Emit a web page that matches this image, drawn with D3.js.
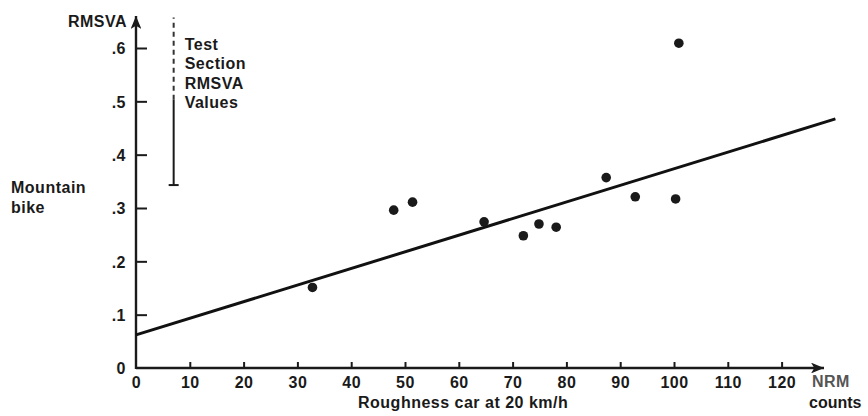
<!DOCTYPE html>
<html>
<head>
<meta charset="utf-8">
<script src="https://cdnjs.cloudflare.com/ajax/libs/d3/7.8.5/d3.min.js"></script>
<style>
  body { margin: 0; background: #fff; }
  text { font-family: "Liberation Sans", Arial, sans-serif; font-weight: bold; fill: #1a1a1a; letter-spacing: 0.5px; }
</style>
</head>
<body>
<div class="chart-container"></div>
<script>
// values
var roughness = [32.8, 47.9, 51.4, 64.7, 72.0, 74.9, 78.1, 87.4, 92.8, 100.3, 100.9];
var rmsva     = [0.151, 0.296, 0.311, 0.274, 0.248, 0.270, 0.264, 0.357, 0.321, 0.317, 0.609];

// fitted line end points
var fitX = [0, 130];
var fitY = [0.062, 0.467];

var xTicks = [0, 10, 20, 30, 40, 50, 60, 70, 80, 90, 100, 110, 120];
var yTicks = [0, 0.1, 0.2, 0.3, 0.4, 0.5, 0.6];
var yTickLabels = ['0', '.1', '.2', '.3', '.4', '.5', '.6'];

// test section range bar (at x = 7): dashed top part, solid bottom part
var rangeX = 7;
var rangeDashed = [0.503, 0.657];
var rangeSolid = [0.343, 0.503];
var rangeLabel = ['Test', 'Section', 'RMSVA', 'Values'];

var width = 868;
var height = 416;
var fontSize = '16px';

var x = d3.scaleLinear()
  .domain([0, 100])
  .range([136, 674]);

var y = d3.scaleLinear()
  .domain([0, 0.6])
  .range([368, 48]);

var svg = d3.select('.chart-container').append('svg')
  .attr('width', width)
  .attr('height', height);

svg.append('defs').append('marker')
    .attr('id', 'arrow')
    .attr('viewBox', '0 0 12 10')
    .attr('refX', 12)
    .attr('refY', 5)
    .attr('markerWidth', 6)
    .attr('markerHeight', 4.5)
    .attr('markerUnits', 'strokeWidth')
    .attr('orient', 'auto')
  .append('path')
    .attr('d', 'M0,0L12,5L0,10L3,5Z')
    .style('fill', '#1a1a1a');

// axes
var xAxis = d3.axisBottom(x)
  .tickValues(xTicks)
  .tickSize(-6)
  .tickPadding(7);

var yAxis = d3.axisLeft(y)
  .tickValues(yTicks)
  .tickFormat((d, i) => yTickLabels[i])
  .tickSize(-11)
  .tickPadding(10);

var gX = svg.append('g')
  .attr('transform', `translate(0,${y(0)})`)
  .call(xAxis);

var gY = svg.append('g')
  .attr('transform', `translate(${x(0)},0)`)
  .call(yAxis);

[gX, gY].forEach(g => {
  g.select('.domain').remove();
  g.selectAll('.tick line').style('stroke', '#1a1a1a').style('stroke-width', 2);
  g.selectAll('.tick text')
    .style('font-size', fontSize)
    .style('font-family', '"Liberation Sans", Arial, sans-serif')
    .style('font-weight', 'bold')
    .style('fill', '#1a1a1a');
});
gX.selectAll('.tick text').attr('dy', '0.8em');
gY.selectAll('.tick text').attr('dy', '0.36em');
gY.selectAll('.tick').filter(d => d === 0).select('line').remove();
gX.selectAll('.tick').filter(d => d === 0).select('line').remove();

// axis lines with arrow heads
svg.append('line')
    .attr('x1', x(0)).attr('y1', y(0))
    .attr('x2', 824).attr('y2', y(0))
    .style('stroke', '#1a1a1a')
    .style('stroke-width', 2.4)
    .attr('marker-end', 'url(#arrow)');

svg.append('line')
    .attr('x1', x(0)).attr('y1', y(0) + 1)
    .attr('x2', x(0)).attr('y2', 16)
    .style('stroke', '#1a1a1a')
    .style('stroke-width', 2.4)
    .attr('marker-end', 'url(#arrow)');

// range bar
svg.append('line')
    .attr('x1', x(rangeX)).attr('y1', y(rangeDashed[0]))
    .attr('x2', x(rangeX)).attr('y2', y(rangeDashed[1]))
    .style('stroke', '#333')
    .style('stroke-width', 2)
    .style('stroke-dasharray', '5,4');

svg.append('line')
    .attr('x1', x(rangeX)).attr('y1', y(rangeSolid[0]))
    .attr('x2', x(rangeX)).attr('y2', y(rangeSolid[1]))
    .style('stroke', '#1a1a1a')
    .style('stroke-width', 2);

svg.append('line')
    .attr('x1', x(rangeX) - 5).attr('y1', y(rangeSolid[0]))
    .attr('x2', x(rangeX) + 5).attr('y2', y(rangeSolid[0]))
    .style('stroke', '#1a1a1a')
    .style('stroke-width', 2);

svg.selectAll('.range-label')
  .data(rangeLabel)
  .enter().append('text')
    .attr('class', 'range-label')
    .attr('x', x(rangeX) + 11)
    .attr('y', (d, i) => 50 + i * 19.3)
    .style('font-size', fontSize)
    .text(d => d);

// fitted line
var line = d3.line()
  .x(d => x(d[0]))
  .y(d => y(d[1]));

svg.append('path')
    .datum(fitX.map((d, i) => [d, fitY[i]]))
    .attr('d', line)
    .style('fill', 'none')
    .style('stroke', '#111')
    .style('stroke-width', 3);

// points
svg.selectAll('.point')
  .data(roughness.map((d, i) => ({x: d, y: rmsva[i]})))
  .enter().append('circle')
    .attr('class', 'point')
    .attr('cx', d => x(d.x))
    .attr('cy', d => y(d.y))
    .attr('r', 4.8)
    .style('fill', '#1a1a1a');

// labels
svg.append('text')
    .attr('x', 127).attr('y', 27)
    .attr('text-anchor', 'end')
    .style('font-size', fontSize)
    .text('RMSVA');

svg.append('text')
    .attr('x', 11).attr('y', 193)
    .style('font-size', fontSize)
    .text('Mountain');

svg.append('text')
    .attr('x', 11).attr('y', 213)
    .style('font-size', fontSize)
    .text('bike');

svg.append('text')
    .attr('x', 358).attr('y', 408)
    .style('font-size', fontSize)
    .text('Roughness car at 20 km/h');

svg.append('text')
    .attr('x', 812).attr('y', 387)
    .style('font-size', fontSize)
    .style('fill', '#555')
    .text('NRM');

svg.append('text')
    .attr('x', 809).attr('y', 408)
    .style('font-size', fontSize)
    .style('letter-spacing', '0px')
    .text('counts');
</script>
</body>
</html>
